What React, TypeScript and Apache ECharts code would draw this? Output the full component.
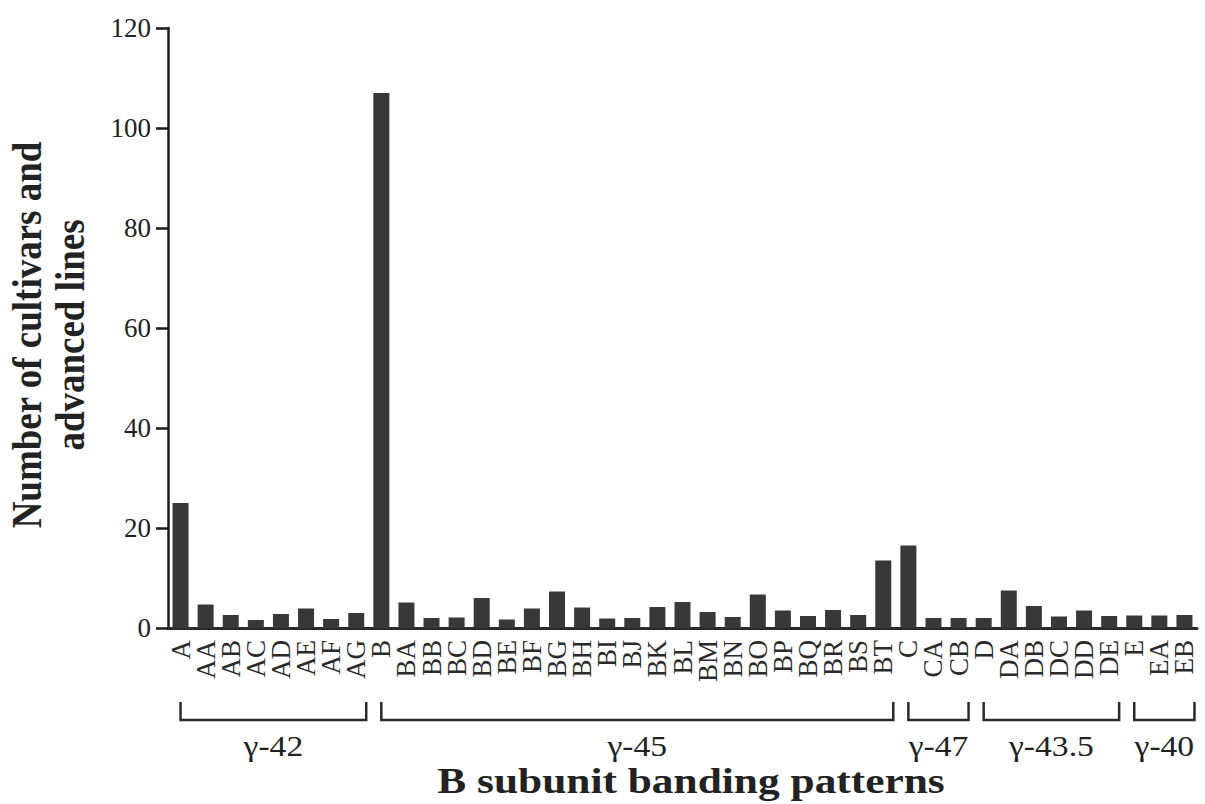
import React, { useEffect, useRef } from "react";
import * as echarts from "echarts";

const categories = [
  "A", "AA", "AB", "AC", "AD", "AE", "AF", "AG",
  "B", "BA", "BB", "BC", "BD", "BE", "BF", "BG", "BH", "BI", "BJ", "BK", "BL", "BM", "BN", "BO", "BP", "BQ", "BR", "BS", "BT",
  "C", "CA", "CB",
  "D", "DA", "DB", "DC", "DD", "DE",
  "E", "EA", "EB",
];

const counts = [
  25, 4.7, 2.6, 1.6, 2.8, 3.9, 1.8, 3,
  107, 5.1, 2, 2.1, 6, 1.7, 3.9, 7.3, 4.1, 1.9, 2, 4.2, 5.2, 3.2, 2.2, 6.7, 3.5, 2.4, 3.6, 2.6, 13.5,
  16.5, 2, 2,
  2, 7.5, 4.4, 2.3, 3.5, 2.4,
  2.5, 2.5, 2.6,
];

const yTicks = [0, 20, 40, 60, 80, 100, 120];

const groupLabels = ["γ-42", "γ-45", "γ-47", "γ-43.5", "γ-40"];
const groupStart = [0, 8, 29, 32, 38];
const groupEnd = [7, 28, 31, 37, 40];

const SERIF = "Liberation Serif";

export default function App() {
  const ref = useRef<HTMLDivElement>(null);

  useEffect(() => {
    if (!ref.current) return;
    const chart = echarts.init(ref.current, undefined, { renderer: "svg" });
    chart.setOption({
      animation: false,
      backgroundColor: "#ffffff",
      grid: { left: 168, right: 8, top: 28, bottom: 176, containLabel: false },
      xAxis: {
        type: "category",
        data: categories,
        boundaryGap: true,
        axisLine: { show: true, lineStyle: { color: "#2a2a2a", width: 3 } },
        axisTick: { show: false },
        axisLabel: {
          interval: 0,
          rotate: 90,
          margin: 12,
          fontFamily: SERIF,
          fontSize: 27,
          color: "#2a2a2a",
        },
      },
      yAxis: {
        type: "value",
        min: 0,
        max: yTicks[yTicks.length - 1],
        interval: 20,
        axisLine: { show: true, lineStyle: { color: "#1a1a1a", width: 2.5 } },
        axisTick: { show: true, length: 12, lineStyle: { color: "#1a1a1a", width: 2.5 } },
        splitLine: { show: false },
        axisLabel: {
          margin: 17,
          fontFamily: SERIF,
          fontSize: 27,
          color: "#222",
        },
      },
      series: [
        {
          type: "bar",
          data: counts,
          barWidth: 16,
          itemStyle: { color: "#383838" },
        },
      ],
    });

    const baseY = 628;
    const graphics: any[] = [];
    for (let i = 0; i < groupLabels.length; i++) {
      const x1 = chart.convertToPixel({ xAxisIndex: 0 }, groupStart[i]) as number;
      const x2 = (chart.convertToPixel({ xAxisIndex: 0 }, groupEnd[i]) as number) + 10;
      graphics.push({
        type: "polyline",
        shape: { points: [[x1, baseY + 74], [x1, baseY + 92], [x2, baseY + 92], [x2, baseY + 74]] },
        style: { stroke: "#2a2a2a", lineWidth: 2.5, fill: null },
        silent: true,
      });
      graphics.push({
        type: "text",
        x: (x1 + x2) / 2,
        y: baseY + 118,
        scaleX: 1.12,
        style: {
          text: groupLabels[i],
          fontFamily: SERIF,
          fontSize: 30,
          fill: "#222",
          align: "center",
          verticalAlign: "middle",
        },
      });
    }
    graphics.push({
      type: "text",
      x: 691,
      y: 781,
      scaleX: 1.24,
      style: {
        text: "B subunit banding patterns",
        fontFamily: SERIF,
        fontWeight: "bold",
        fontSize: 35,
        fill: "#222",
        align: "center",
        verticalAlign: "middle",
      },
    });
    graphics.push({
      type: "text",
      x: 48,
      y: 335,
      rotation: Math.PI / 2,
      scaleY: 1.15,
      style: {
        text: "Number of cultivars and\nadvanced lines",
        fontFamily: SERIF,
        fontWeight: "bold",
        fontSize: 37,
        lineHeight: 38,
        fill: "#222",
        align: "center",
        verticalAlign: "middle",
      },
    });
    chart.setOption({ graphic: graphics });

    return () => chart.dispose();
  }, []);

  return <div ref={ref} style={{ width: 1205, height: 804, position: "absolute", left: 0, top: 0 }} />;
}
